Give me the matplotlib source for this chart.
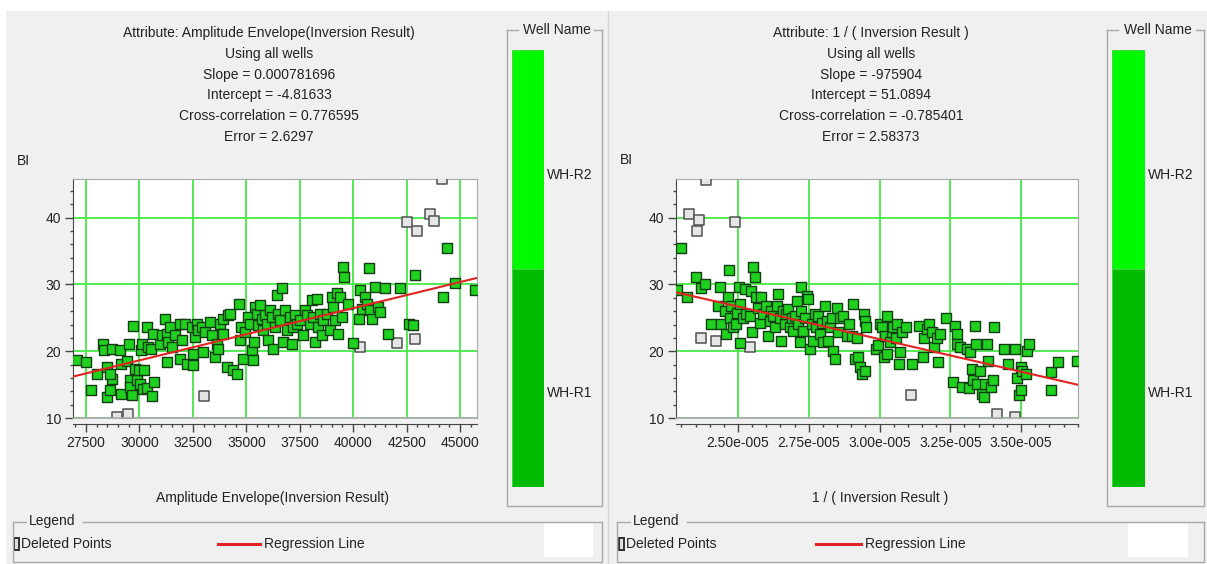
import numpy as np
import matplotlib
matplotlib.use('Agg')
import matplotlib.pyplot as plt
from matplotlib.patches import Rectangle
from matplotlib.ticker import MultipleLocator, FuncFormatter
import matplotlib.transforms as mtransforms

# ---------------- DATA ----------------
# Left panel: Amplitude Envelope (Inversion Result) vs BI
amp_kept_x = [27063, 27500, 27720, 28000, 28310, 28340, 28500, 28500, 28620, 28700, 28620, 28700,
              29090, 29120, 29120, 29400, 29530, 29560, 29560, 29640, 29715, 29790, 29870, 30000,
              30030, 30070, 30100, 30180, 30210, 30340, 30340, 30420, 30530, 30570, 30620, 30680,
              30960, 31040, 31200, 31275, 31300, 31350, 31430, 31510, 31660, 31900, 31900, 31980,
              32130, 32210, 32440, 32500, 32520, 32600, 32680, 32760, 32910, 32990, 33070, 33300,
              33380, 33540, 33610, 33690, 33770, 33900, 33930, 34080, 34160, 34240, 34390, 34580,
              34680, 34700, 34740, 34860, 34940, 35090, 35170, 35250, 35330, 35360, 35410, 35490,
              35560, 35640, 35720, 35800, 35880, 35950, 36030, 36110, 36190, 36270, 36340, 36420,
              36500, 36580, 36660, 36740, 36810, 36890, 37050, 37120, 37200, 37280, 37360, 37510,
              37670, 37750, 37830, 37980, 38060, 38140, 38220, 38300, 38370, 38450, 38530, 38610,
              38760, 38920, 39000, 39075, 39150, 39230, 39310, 39390, 39470, 39510, 39570, 39780,
              40010, 40250, 40320, 40400, 40560, 40630, 40760, 40790, 40870, 41030, 41180, 41260,
              41490, 41650, 42200, 42590, 42820, 42900, 44220, 44380, 44770, 45700]
amp_kept_y = [18.65, 18.4, 14.15, 16.55, 21.15, 20.15, 17.65, 13.15, 14.15, 15.9, 16.65, 20.4,
              20.15, 13.55, 18.15, 18.55, 21.05, 15.65, 14.65, 13.4, 23.75, 17.4, 15.65, 17.15,
              15.15, 20.25, 21.15, 14.4, 17.15, 14.55, 23.65, 20.65, 20.4, 13.25, 22.65, 15.4,
              21.15, 22.4, 24.9, 22.65, 18.4, 21.4, 23.65, 20.65, 22.4, 24.15, 18.9, 21.65,
              24.15, 18.15, 23.65, 19.65, 17.9, 22.15, 24.15, 23.15, 23.65, 19.9, 22.9, 24.4,
              22.4, 19.15, 21.15, 20.4, 24.15, 22.65, 24.9, 17.65, 25.4, 25.65, 17.15, 16.55,
              27.15, 21.65, 23.65, 18.9, 22.9, 25.15, 24.15, 20.15, 18.65, 21.4, 26.65, 25.65,
              23.9, 26.9, 24.9, 23.15, 25.4, 24.15, 21.65, 26.15, 25.15, 20.4, 23.65, 28.4,
              25.65, 24.65, 29.4, 21.4, 26.15, 23.15, 25.15, 21.15, 23.65, 25.4, 24.15, 24.65,
              22.4, 26.15, 25.4, 24.15, 27.65, 25.15, 21.4, 27.9, 23.65, 25.65, 22.4, 24.65,
              25.65, 23.15, 28.15, 26.65, 24.65, 28.65, 22.65, 28.15, 25.15, 32.65, 31.15, 27.15,
              21.25, 24.9, 29.15, 26.4, 28.15, 27.15, 32.4, 26.15, 24.9, 29.65, 26.65, 25.9,
              29.4, 22.65, 29.4, 24.15, 23.9, 31.4, 28.15, 35.4, 30.15, 29.15]
amp_del_x = [44145, 42500, 42975, 43600, 43790, 42040, 42900, 40320, 33040, 29450, 28935]
amp_del_y = [45.75, 39.4, 38.0, 40.6, 39.5, 21.3, 21.8, 20.65, 13.3, 10.6, 10.15]

# Right panel: 1 / (Inversion Result) vs BI  (values in units of 1e-5)
inv_kept_x = [2.284, 2.299, 2.319, 2.352, 2.370, 2.385, 2.406, 2.429, 2.437, 2.441, 2.453, 2.456,
              2.465, 2.468, 2.470, 2.476, 2.482, 2.492, 2.496, 2.504, 2.506, 2.508, 2.518, 2.524,
              2.530, 2.541, 2.547, 2.551, 2.553, 2.559, 2.563, 2.571, 2.577, 2.583, 2.589, 2.600,
              2.606, 2.612, 2.618, 2.624, 2.630, 2.636, 2.642, 2.648, 2.653, 2.659, 2.665, 2.671,
              2.677, 2.683, 2.689, 2.695, 2.701, 2.707, 2.713, 2.718, 2.721, 2.724, 2.730, 2.736,
              2.742, 2.748, 2.754, 2.760, 2.766, 2.772, 2.777, 2.783, 2.789, 2.795, 2.801, 2.807,
              2.813, 2.819, 2.825, 2.831, 2.836, 2.842, 2.848, 2.854, 2.860, 2.872, 2.884, 2.893,
              2.901, 2.907, 2.913, 2.919, 2.925, 2.931, 2.937, 2.945, 2.949, 2.949, 2.952, 2.988,
              2.996, 3.002, 3.008, 3.016, 3.019, 3.025, 3.028, 3.037, 3.043, 3.049, 3.058, 3.063,
              3.070, 3.073, 3.079, 3.094, 3.116, 3.140, 3.155, 3.157, 3.167, 3.175, 3.187, 3.191,
              3.202, 3.208, 3.214, 3.235, 3.261, 3.267, 3.273, 3.275, 3.283, 3.291, 3.309, 3.315,
              3.318, 3.326, 3.330, 3.338, 3.342, 3.344, 3.354, 3.362, 3.368, 3.374, 3.380, 3.382,
              3.392, 3.401, 3.403, 3.441, 3.453, 3.480, 3.486, 3.492, 3.498, 3.500, 3.503, 3.518,
              3.521, 3.527, 3.604, 3.606, 3.630, 3.698]
inv_kept_y = [29.1, 35.5, 28.1, 31.1, 29.45, 30.0, 24.1, 26.8, 29.55, 24.1, 26.05, 22.6,
              28.1, 32.15, 25.05, 26.8, 23.6, 24.1, 25.8, 29.55, 21.2, 27.05, 25.05, 29.3,
              25.55, 25.3, 29.05, 22.85, 32.55, 31.15, 28.1, 26.55, 24.3, 28.1, 25.55, 26.8,
              22.3, 24.55, 26.05, 25.3, 23.6, 26.8, 28.55, 25.05, 21.6, 26.05, 24.1, 25.55,
              26.3, 23.6, 25.05, 23.1, 25.3, 27.55, 24.1, 21.35, 29.55, 26.05, 23.1, 25.05,
              28.3, 27.8, 20.4, 24.1, 21.6, 25.55, 23.6, 25.3, 22.6, 24.3, 21.35, 26.8,
              24.55, 21.6, 23.6, 25.05, 20.1, 18.85, 26.55, 22.85, 25.05, 25.3, 22.3, 24.1,
              22.3, 27.05, 18.85, 22.05, 19.1, 17.6, 16.6, 25.55, 17.1, 24.55, 23.6, 20.4,
              20.9, 24.1, 23.6, 19.1, 22.3, 25.3, 19.6, 21.35, 22.85, 23.6, 22.05, 24.1,
              18.1, 19.85, 22.85, 23.6, 18.1, 23.85, 19.1, 22.05, 23.35, 24.1, 22.85, 20.65,
              22.05, 18.35, 22.6, 25.05, 15.45, 23.85, 22.6, 21.1, 20.65, 14.7, 20.4, 14.45,
              19.85, 17.35, 15.65, 23.85, 21.1, 15.15, 17.1, 13.65, 13.15, 15.15, 21.1, 18.6,
              14.65, 15.65, 23.6, 20.4, 18.1, 20.4, 15.95, 13.4, 17.6, 14.15, 17.1, 16.6,
              20.1, 21.1, 14.15, 16.9, 18.35, 18.6]
inv_del_x = [2.388, 2.326, 2.362, 2.355, 2.488, 2.370, 2.423, 2.541, 3.112, 3.415, 3.480]
inv_del_y = [45.7, 40.6, 39.6, 38.0, 39.4, 22.0, 21.5, 20.6, 13.4, 10.6, 10.15]

left_stats = ["Attribute: Amplitude Envelope(Inversion Result)", "Using all wells",
              "Slope = 0.000781696", "Intercept = -4.81633",
              "Cross-correlation = 0.776595", "Error = 2.6297"]
right_stats = ["Attribute: 1 / ( Inversion Result )", "Using all wells",
               "Slope = -975904", "Intercept = 51.0894",
               "Cross-correlation = -0.785401", "Error = 2.58373"]
left_slope, left_intercept = 0.000781696, -4.81633
right_slope, right_intercept = -975904, 51.0894

wells = ["WH-R1", "WH-R2"]
well_colors = ["#00bb00", "#00fa00"]

# ---------------- FIGURE ----------------
W, H = 1207, 564
plt.rcParams['font.family'] = ['Liberation Sans', 'DejaVu Sans']
fig = plt.figure(figsize=(W / 100, H / 100), dpi=100)
fig.patch.set_facecolor('#f0f0f0')

TXT = '#222222'
FRAME = '#a9a9a9'
FS = 10


def rect(x0, y0, x1, y1):
    return [x0 / W, 1 - y1 / H, (x1 - x0) / W, (y1 - y0) / H]


deco = fig.add_axes([0, 0, 1, 1], zorder=-5)
deco.set_xlim(0, W)
deco.set_ylim(H, 0)
deco.axis('off')
deco.add_patch(Rectangle((0, 0), W, 11, facecolor='white', edgecolor='none'))
deco.add_patch(Rectangle((0, 0), 6, H, facecolor='white', edgecolor='none'))
deco.plot([608, 608], [11, H], color='#d6d6d6', lw=1)


def panel(ax_box, xk, yk, xd, yd, slope, intercept, xlim, xmaj, xmin, fmt):
    ax = fig.add_axes(rect(*ax_box))
    ax.set_facecolor('white')
    ax.set_xlim(*xlim)
    ax.set_ylim(10, 45.8)
    ax.xaxis.set_major_locator(MultipleLocator(xmaj))
    ax.xaxis.set_minor_locator(MultipleLocator(xmin))
    ax.yaxis.set_major_locator(MultipleLocator(10))
    ax.yaxis.set_minor_locator(MultipleLocator(2))
    ax.xaxis.set_major_formatter(FuncFormatter(fmt))
    ax.grid(True, which='major', color='#44e844', lw=1.3)
    ax.set_axisbelow(True)
    for s in ['top', 'right']:
        ax.spines[s].set_color(FRAME)
    ax.spines['left'].set_color('#454545')
    ax.spines['bottom'].set_color('#454545')
    ax.spines['bottom'].set_position(('outward', 4.5))
    ax.plot([0, 1], [0, 0], transform=ax.transAxes, color=FRAME, lw=1.2,
            clip_on=False, zorder=6)
    ax.tick_params(which='major', direction='out', length=5.5, width=1,
                   color='#454545', labelsize=FS, labelcolor=TXT, pad=3)
    ax.tick_params(which='minor', direction='out', length=2.5, width=1,
                   color='#454545')
    ax.scatter(xd, yd, marker='s', s=44, facecolor='#e6e6e6', edgecolor='#505050',
               linewidths=1.1, zorder=3)
    ax.scatter(xk, yk, marker='s', s=44, facecolor='#1fd01f', edgecolor='#123c12',
               linewidths=1.0, zorder=4)
    xs = np.array(xlim)
    ax.plot(xs, slope * xs + intercept, color='#e32222', lw=1.5, zorder=5)
    return ax


ax1 = panel((73, 179, 477, 418), amp_kept_x, amp_kept_y, amp_del_x, amp_del_y,
            left_slope, left_intercept, (26890, 45795), 2500, 500,
            lambda v, p: f"{v:.0f}")
inv_kx = np.array(inv_kept_x) * 1e-5
inv_dx = np.array(inv_del_x) * 1e-5
ax2 = panel((676, 179, 1078, 418), inv_kx, inv_kept_y, inv_dx, inv_del_y,
            right_slope, right_intercept, (2.281e-5, 3.701e-5), 0.25e-5, 0.05e-5,
            lambda v, p: f"{v * 1e5:.2f}e-005")

# stats text
for cx, lines in [(269, left_stats), (871, right_stats)]:
    for i, t in enumerate(lines):
        deco.text(cx, 33 + 20.8 * i, t, ha='center', va='center', fontsize=FS, color=TXT)

# axis labels
deco.text(17, 161, "BI", ha='left', va='center', fontsize=FS, color=TXT)
deco.text(620, 160, "BI", ha='left', va='center', fontsize=FS, color=TXT)
deco.text(272, 498, "Amplitude Envelope(Inversion Result)", ha='center', va='center',
          fontsize=FS, color=TXT)
deco.text(880, 498, "1 / ( Inversion Result )", ha='center', va='center',
          fontsize=FS, color=TXT)


# group-box helper
def group_box(x0, y0, x1, y1, title, tx0, tx1, tcenter=None):
    deco.plot([x0, x0, x1, x1], [y0, y1, y1, y0], color=FRAME, lw=1)
    deco.plot([x0, tx0], [y0, y0], color=FRAME, lw=1)
    deco.plot([tx1, x1], [y0, y0], color=FRAME, lw=1)
    if tcenter is None:
        deco.text(tx0 + 3, y0 - 1, title, ha='left', va='center', fontsize=FS, color=TXT)
    else:
        deco.text(tcenter, y0, title, ha='center', va='center', fontsize=FS, color=TXT)


# Well name boxes with colour bars
for (bx0, bx1, cbx0, cbx1) in [(507, 602, 512, 544), (1107, 1204, 1112, 1145)]:
    group_box(bx0, 30, bx1, 506, "Well Name", bx0 + 11, bx1 - 8, tcenter=(bx0 + bx1) / 2 + 2)
    cb = fig.add_axes(rect(cbx0, 50, cbx1, 487))
    cb.set_xlim(-0.5, 0.5)
    cb.set_ylim(0, len(wells))
    cb.axis('off')
    trans = mtransforms.blended_transform_factory(cb.transAxes, cb.transData)
    for i, (name, col) in enumerate(zip(wells, well_colors)):
        cb.bar(0, 1, bottom=i, width=1, color=col, edgecolor='#40d040', lw=0.6)
        cb.text(1.1, i + 0.43, name, transform=trans, ha='left', va='center',
                fontsize=FS, color=TXT)

# Legend boxes
for (lx0, lx1, ic, line0, line1, wb0, wb1) in [(13, 602, 14, 218, 260, 544, 593),
                                                (617, 1204, 619, 816, 861, 1128, 1188)]:
    group_box(lx0, 522, lx1, 562, "Legend", lx0 + 13, lx0 + 70)
    deco.add_patch(Rectangle((wb0, 523), wb1 - wb0, 34, facecolor='white', edgecolor='none'))
    deco.add_patch(Rectangle((ic, 538), 5, 12, facecolor='#dedede', edgecolor='#303030', lw=1.4))
    deco.text(ic + 7, 544, "Deleted Points", ha='left', va='center', fontsize=FS, color=TXT)
    deco.plot([line0, line1], [544, 544], color='#e32222', lw=2.2)
    deco.text(line1 + 4, 544, "Regression Line", ha='left', va='center', fontsize=FS, color=TXT)

fig.savefig('out.png', dpi=100, facecolor=fig.get_facecolor())
